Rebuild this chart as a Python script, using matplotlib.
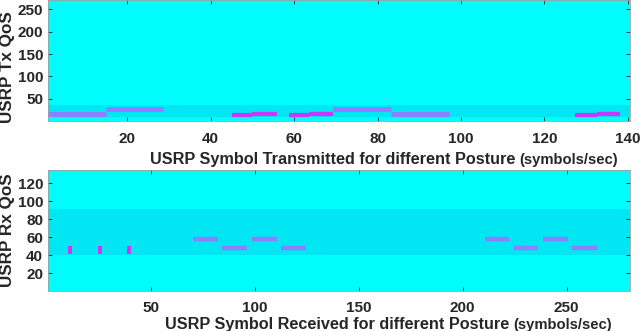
import matplotlib.pyplot as plt

plt.rcParams["font.family"] = ["Liberation Sans", "DejaVu Sans"]
plt.rcParams["font.weight"] = "bold"

# Tx panel: step segments (x start, x end, QoS level)
tx_x0 = [1, 15, 45.2, 50, 58.8, 63.6, 69.4, 83.3, 127.3, 132.5]
tx_x1 = [15, 28.5, 50, 55.8, 63.6, 69.4, 83.3, 97, 132.5, 138]
tx_y = [17, 27, 14.5, 17, 14.5, 17, 27, 17, 14.5, 17]
tx_kind = ["p", "p", "m", "m", "m", "m", "p", "p", "m", "m"]
tx_band = (10, 37)

# Rx panel: horizontal segments
rx_x0 = [70.4, 84.4, 98.5, 112.6, 210.7, 224.7, 238.6, 252.5]
rx_x1 = [82.2, 96.3, 110.6, 124.5, 222.4, 236.4, 250.6, 264.4]
rx_y = [58, 48, 58, 48, 58, 48, 58, 48]
# Rx short vertical marks
rx_mx = [11.3, 25.4, 39.5]
rx_my0 = [41, 41, 41]
rx_my1 = [50, 50, 50]
rx_band = (40.4, 91.5)

bg = "#00FDFD"
band_col = "#00E6F2"
purple = "#8C80FF"
magenta = "#C838F8"
txt = "#262626"

fig = plt.figure(figsize=(6.4, 3.31), dpi=100)
W, H = 640, 331
ax1 = fig.add_axes([48 / W, 1 - 121 / H, 582 / W, 121 / H])
ax2 = fig.add_axes([48 / W, 1 - 290.5 / H, 582 / W, 120.5 / H])

for ax in (ax1, ax2):
    ax.set_facecolor(bg)
    ax.tick_params(direction="in", top=True, right=True, length=3,
                   labelsize=11, colors=txt, width=0.6)
    ax.tick_params(axis="x", pad=7.8)
    for s in ax.spines.values():
        s.set_color("#a0a0a0")
        s.set_linewidth(0.6)

ax1.axhspan(*tx_band, color=band_col, lw=0)
for a, b, y, k in zip(tx_x0, tx_x1, tx_y, tx_kind):
    if k == "p":
        ax1.plot([a, b], [y, y], color=purple, lw=3.6, solid_capstyle="butt")
    else:
        ax1.plot([a, b], [y, y], color=magenta, lw=3.0, solid_capstyle="butt")
ax1.set_xlim(1, 140.5)
ax1.set_ylim(0.5, 271)
ax1.set_xticks([20, 40, 60, 80, 100, 120, 140])
ax1.set_yticks([50, 100, 150, 200, 250])

ax2.axhspan(*rx_band, color=band_col, lw=0)
for a, b, y in zip(rx_x0, rx_x1, rx_y):
    ax2.plot([a, b], [y, y], color=purple, lw=3.2, solid_capstyle="butt")
for x, y0, y1 in zip(rx_mx, rx_my0, rx_my1):
    ax2.plot([x, x], [y0, y1], color=magenta, lw=2.8, solid_capstyle="butt")
ax2.set_xlim(0.6, 280.5)
ax2.set_ylim(0.7, 135)
ax2.set_xticks([50, 100, 150, 200, 250])
ax2.set_yticks([20, 40, 60, 80, 100, 120])

for ax in (ax1, ax2):
    for lab in ax.get_xticklabels() + ax.get_yticklabels():
        lab.set_fontweight("bold")

fig.text(8 / W, 1 - 67 / H, "USRP Tx QoS", rotation=90, ha="center",
         va="center", fontsize=12.3, fontweight="bold", color=txt)
fig.text(8 / W, 1 - 230 / H, "USRP Rx QoS", rotation=90, ha="center",
         va="center", fontsize=12.3, fontweight="bold", color=txt)

renderer = fig.canvas.get_renderer()
labels = [("USRP Symbol Transmitted for different Posture", 333, 164),
          ("USRP Symbol Received for different Posture", 337, 329)]
for main, cx, by in labels:
    t = fig.text(cx / W, 1 - by / H, main, ha="center", va="baseline",
                 fontsize=11.7, fontweight="bold", color=txt)
    bb = t.get_window_extent(renderer)
    fig.text((bb.x1 + 4) / W, 1 - by / H, "(symbols/sec)", ha="left",
             va="baseline", fontsize=10.6, fontweight="bold", color=txt)

fig.savefig("out.png", dpi=100)
